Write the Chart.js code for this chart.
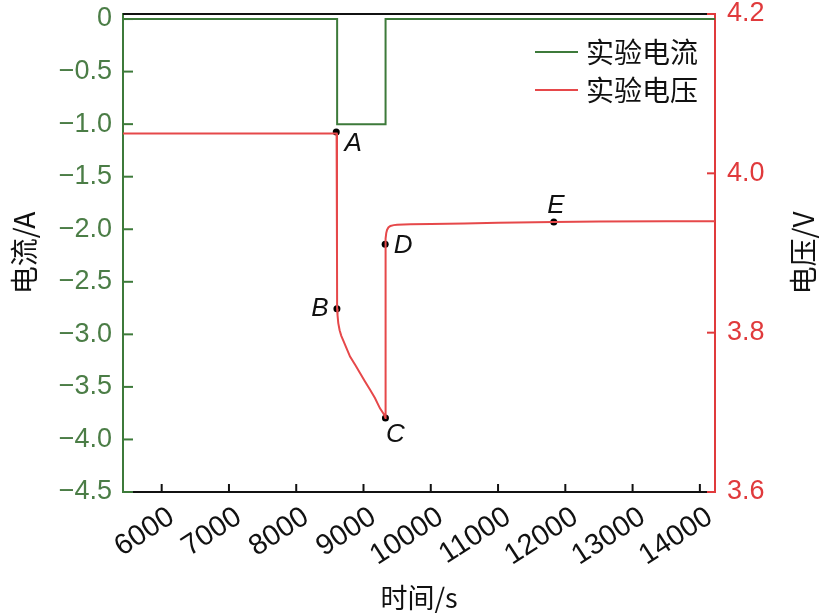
<!DOCTYPE html>
<html>
<head>
<meta charset="utf-8">
<script src="https://cdn.jsdelivr.net/npm/chart.js@4.4.1/dist/chart.umd.min.js"></script>
<style>
  html, body { margin: 0; padding: 0; background: #fff; }
  #wrap { width: 825px; height: 615px; }
</style>
</head>
<body>
<div id="wrap"><canvas id="chart"></canvas></div>
<script>
// 电流 (A)
const currTime = [5425, 8608, 8608, 9328, 9328, 14225];
const currVal  = [0, 0, -1.0, -1.0, 0, 0];

// 电压 (V)
const voltTime = [5425, 8600, 8606, 8608, 8614, 8625, 8645, 8670, 8700, 8750, 8800, 8880, 8950, 9020, 9100, 9170, 9245, 9300, 9326,
                  9327, 9328, 9330, 9338, 9350, 9370, 9400, 9450, 9500, 9700, 10000, 10500, 11000, 11829, 12500, 13500, 14225];
const voltVal  = [4.05, 4.05, 3.90, 3.830, 3.822, 3.812, 3.803, 3.796, 3.790, 3.780, 3.770, 3.759, 3.749, 3.739, 3.728, 3.718, 3.705, 3.698, 3.693,
                  3.800, 3.911, 3.918, 3.925, 3.929, 3.932, 3.934, 3.935, 3.9355, 3.936, 3.9365, 3.937, 3.938, 3.939, 3.9395, 3.940, 3.940];

// 标注点 A-E
const markNames = ['A', 'B', 'C', 'D', 'E'];
const markTime  = [8595, 8605, 9326, 9322, 11829];
const markVolt  = [4.052, 3.830, 3.693, 3.911, 3.939];

const xTicks = [6000, 7000, 8000, 9000, 10000, 11000, 12000, 13000, 14000];
const currTicks = [0, -0.5, -1.0, -1.5, -2.0, -2.5, -3.0, -3.5, -4.0, -4.5];
const voltTicks = [3.6, 3.8, 4.0, 4.2];

const GREEN = '#3d7a3a';
const GREEN_TXT = '#4b7d46';
const RED = '#e03a3c';
const RED_LINE = '#e6484a';

const yFont = { family: 'Liberation Sans, Arial, sans-serif', size: 27 };
const xFont = { family: 'Liberation Sans, Arial, sans-serif', size: 29 };
const cjk = 'Noto Sans CJK SC';

// 固定坐标轴尺寸, 去掉标签引起的额外留白
const fixSize = (w, h) => s => {
  if (w) s.width = w;
  if (h) s.height = h;
  s.paddingTop = 0; s.paddingBottom = 0; s.paddingLeft = 0; s.paddingRight = 0;
};

// 向内的刻度线、顶部边框、图例、右侧标题、点标签
const decor = {
  id: 'decor',
  afterDraw(chart) {
    const { ctx, chartArea: a, scales } = chart;
    ctx.save();
    ctx.lineWidth = 2;
    ctx.strokeStyle = '#111';
    ctx.beginPath();
    ctx.moveTo(a.left, a.top); ctx.lineTo(a.right, a.top);
    ctx.stroke();
    scales.x.ticks.forEach((t, i) => {
      const x = scales.x.getPixelForTick(i);
      ctx.beginPath(); ctx.moveTo(x, a.bottom); ctx.lineTo(x, a.bottom - 8); ctx.stroke();
    });
    ctx.strokeStyle = GREEN;
    scales.y.ticks.forEach((t, i) => {
      const y = scales.y.getPixelForTick(i);
      ctx.beginPath(); ctx.moveTo(a.left, y); ctx.lineTo(a.left + 10, y); ctx.stroke();
    });
    ctx.strokeStyle = RED;
    scales.y2.ticks.forEach((t, i) => {
      const y = scales.y2.getPixelForTick(i);
      ctx.beginPath(); ctx.moveTo(a.right, y); ctx.lineTo(a.right - 8, y); ctx.stroke();
    });

    // 图例
    const items = [['实验电流', GREEN], ['实验电压', RED_LINE]];
    ctx.font = '28px "' + cjk + '"';
    ctx.textBaseline = 'middle';
    ctx.textAlign = 'left';
    items.forEach((it, i) => {
      const y = 52 + i * 38;
      ctx.strokeStyle = it[1];
      ctx.lineWidth = 2;
      ctx.beginPath(); ctx.moveTo(535, y); ctx.lineTo(578, y); ctx.stroke();
      ctx.fillStyle = '#111';
      ctx.fillText(it[0], 586, y);
    });

    // 右侧标题
    ctx.save();
    ctx.translate(803, (a.top + a.bottom) / 2);
    ctx.rotate(-Math.PI / 2);
    ctx.textAlign = 'center';
    ctx.font = '28px "' + cjk + '"';
    ctx.fillStyle = '#111';
    ctx.fillText('电压/V', 0, 0);
    ctx.restore();

    // 点标签
    const offs = [[17, 12], [-17, 0], [10, 17], [18, 2], [2, -16]];
    ctx.font = 'italic 26px Liberation Sans, Arial, sans-serif';
    ctx.fillStyle = '#111';
    ctx.textAlign = 'center';
    markNames.forEach((n, i) => {
      const x = scales.x.getPixelForValue(markTime[i]);
      const y = scales.y2.getPixelForValue(markVolt[i]);
      ctx.fillText(n, x + offs[i][0], y + offs[i][1]);
    });
    ctx.restore();
  }
};

new Chart(document.getElementById('chart'), {
  type: 'line',
  data: {
    datasets: [
      {
        label: '实验电流',
        data: currTime.map((t, i) => ({ x: t, y: currVal[i] })),
        borderColor: GREEN, borderWidth: 2, pointRadius: 0, yAxisID: 'y', tension: 0
      },
      {
        label: '实验电压',
        data: voltTime.map((t, i) => ({ x: t, y: voltVal[i] })),
        borderColor: RED_LINE, borderWidth: 2, pointRadius: 0, yAxisID: 'y2', tension: 0
      },
      {
        label: 'marks',
        data: markTime.map((t, i) => ({ x: t, y: markVolt[i] })),
        showLine: false, pointRadius: 3.5, pointBackgroundColor: '#000', pointBorderWidth: 0,
        yAxisID: 'y2'
      }
    ]
  },
  options: {
    responsive: true,
    maintainAspectRatio: false,
    animation: false,
    layout: { padding: { top: 14, left: 0, right: 0, bottom: 0 } },
    plugins: { legend: { display: false }, tooltip: { enabled: false } },
    scales: {
      x: {
        type: 'linear', min: 5425, max: 14225,
        afterBuildTicks: s => { s.ticks = xTicks.map(v => ({ value: v })); },
        afterFit: fixSize(0, 123),
        grid: { display: false, drawTicks: false },
        border: { color: '#111', width: 2 },
        ticks: { color: '#111', font: xFont, minRotation: 33, maxRotation: 33, padding: 8, labelOffset: 10, callback: v => String(v) },
        title: { display: true, text: '时间/s', color: '#111', font: { family: cjk, size: 27 }, padding: { top: 4, bottom: 1 } }
      },
      y: {
        position: 'left', min: -4.5, max: 0.048,
        afterBuildTicks: s => { s.ticks = currTicks.map(v => ({ value: v })); },
        afterFit: fixSize(123, 0),
        grid: { display: false, drawTicks: false },
        border: { color: GREEN, width: 2 },
        ticks: {
          color: GREEN_TXT, font: yFont, padding: 11,
          callback: v => v === 0 ? '0' : '\u2212' + Math.abs(v).toFixed(1)
        },
        title: { display: true, text: '电流/A', color: '#111', font: { family: cjk, size: 28 }, padding: { top: 8, bottom: 0 } }
      },
      y2: {
        position: 'right', min: 3.6, max: 4.2,
        afterBuildTicks: s => { s.ticks = voltTicks.map(v => ({ value: v })); },
        afterFit: fixSize(110, 0),
        grid: { display: false, drawTicks: false },
        border: { color: RED, width: 2 },
        ticks: { color: RED, font: yFont, padding: 12, callback: v => v.toFixed(1) }
      }
    }
  },
  plugins: [decor]
});
</script>
</body>
</html>
